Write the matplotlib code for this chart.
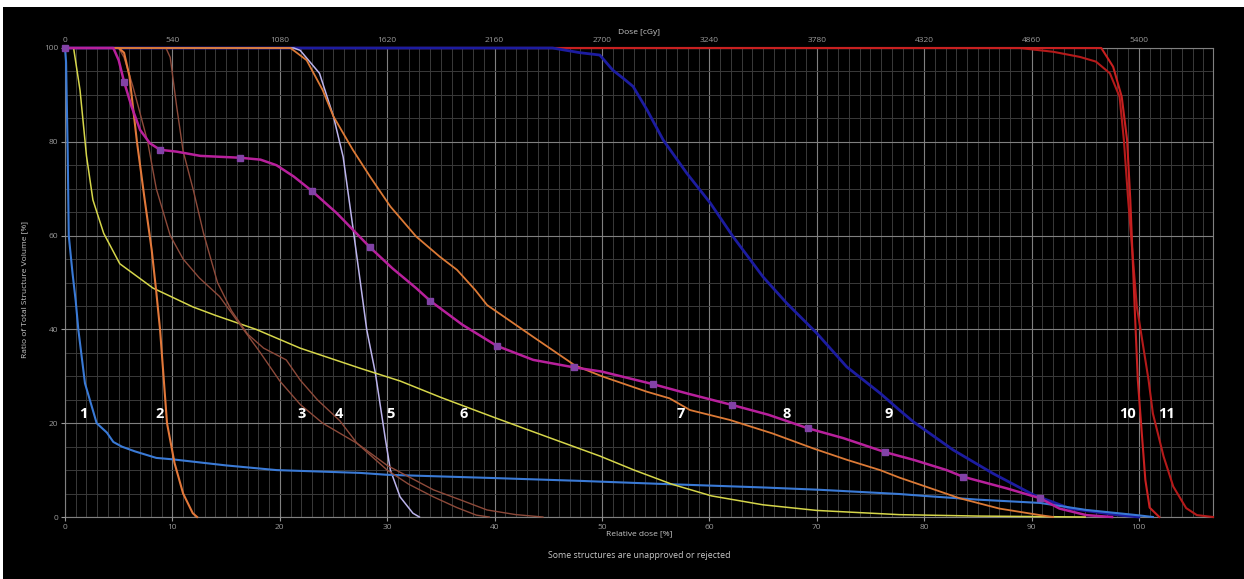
import matplotlib
matplotlib.use("Agg")
import matplotlib.pyplot as plt
from matplotlib.patches import Rectangle

plt.rcParams['font.family'] = ['Open Sans', 'DejaVu Sans']

# curve data, relative dose [%] vs volume [%]
x1 = [0, 0.1, 0.25, 0.35, 0.7, 1.0, 1.24, 1.86, 2.95, 3.9, 4.5, 5.3, 6.5, 8.5, 10, 15, 19.7, 27.5, 30, 40, 48, 55, 65, 70.3, 77.7, 80, 85, 90.8, 95.1, 99.8, 101.3]
y1 = [100, 97, 78, 60, 52, 46, 40, 28.5, 20, 18, 16, 15, 14, 12.6, 12.3, 11, 10, 9.4, 9.0, 8.3, 7.7, 7.1, 6.3, 5.8, 4.9, 4.5, 3.7, 3.0, 1.5, 0.4, 0]

x2 = [0, 5.0, 5.5, 6.0, 6.7, 7.4, 8.07, 8.5, 8.85, 9.5, 10.2, 11.0, 11.9, 12.3]
y2 = [100, 100, 99, 94, 80, 68, 57, 48, 40, 20, 11.5, 5, 0.8, 0]

x3 = [0, 5.0, 5.5, 6.3, 7.0, 7.7, 8.5, 9.8, 11.0, 12.5, 14.4, 16.3, 18.2, 20.0, 21.9, 24.0, 27.2, 30.0, 34.3, 37, 39.3, 42, 44.5]
y3 = [100, 100, 98, 92, 86, 80, 70, 60, 55, 51, 47, 41, 35, 29, 24, 20, 15.7, 11, 5.8, 3.5, 1.5, 0.5, 0]

x4 = [0, 9.4, 9.8, 10.4, 11.0, 11.95, 12.9, 14.2, 15.5, 17.0, 18.5, 20.6, 21.9, 23.5, 25.6, 27.2, 30.0, 32, 34.3, 36.5, 38.3, 39.5]
y4 = [100, 100, 98, 87.5, 78, 69.7, 60.5, 50, 44, 39, 36, 33.5, 29.2, 25, 20.5, 15.7, 10, 7, 4.3, 2, 0.4, 0]

x5 = [0, 21.3, 21.9, 23.7, 25.0, 25.9, 26.8, 27.6, 28.1, 28.9, 29.8, 30.3, 31.2, 32.4, 33]
y5 = [100, 100, 99.5, 94.6, 85.4, 76.8, 61.9, 48.4, 39.9, 30.7, 17.1, 10, 4.3, 0.8, 0]

x6 = [0, 0.8, 1.4, 2.0, 2.6, 3.6, 5.1, 8.2, 11.9, 14.0, 17.8, 21.9, 27.5, 31.2, 35, 40, 45, 49.8, 53, 56.5, 60.2, 65, 70, 77.7, 85, 95]
y6 = [100, 100, 91, 77, 67.6, 60.5, 54, 48.8, 44.8, 43, 40, 36, 31.7, 29, 25.5, 21.2, 17, 13, 10, 7, 4.5, 2.6, 1.4, 0.5, 0.2, 0]

x7 = [0, 21, 22.5, 24, 25, 26.8, 28.4, 30.3, 32.7, 34.9, 36.5, 38.2, 39.3, 43.6, 47.5, 50, 54.2, 56.3, 58.2, 61.9, 65.9, 69.7, 72.8, 75.9, 77.7, 80, 83.3, 87, 90.8, 92]
y7 = [100, 100, 97.4, 91, 85.4, 78.3, 72.6, 66.2, 59.8, 55.5, 52.7, 48.4, 45.2, 38.4, 32.3, 30, 26.7, 25.3, 22.8, 20.7, 17.8, 14.6, 12.2, 10, 8.4, 6.6, 4.0, 1.8, 0.4, 0]

x8 = [0, 4.5, 5.0, 5.5, 6.2, 7.0, 7.9, 8.85, 10.4, 12.6, 16.3, 18.2, 19.7, 21.3, 23.0, 25.3, 27.0, 28.4, 30.5, 32.7, 34.0, 37, 40.2, 43.6, 47.4, 50, 54.8, 58, 62.1, 65.5, 69.2, 72.5, 76.4, 79, 82.1, 83.6, 87.7, 90.8, 92.6, 95.1, 97.5]
y8 = [100, 100, 97.4, 92.8, 87.5, 82.5, 79.7, 78.3, 77.9, 77, 76.6, 76.2, 75, 72.6, 69.5, 64.8, 60.8, 57.5, 53, 48.8, 46.1, 41, 36.5, 33.5, 31.9, 31, 28.3, 26.3, 23.9, 21.8, 18.9, 16.8, 13.8, 12.2, 10, 8.6, 6.1, 4.0, 1.8, 0.4, 0]
marker_x = [0, 5.5, 8.85, 16.3, 23.0, 28.4, 34.0, 40.2, 47.4, 54.8, 62.1, 69.2, 76.4, 83.6, 90.8]
marker_y = [100, 92.8, 78.3, 76.6, 69.5, 57.5, 46.1, 36.5, 31.9, 28.3, 23.9, 18.9, 13.8, 8.6, 4.0]

x9 = [0, 45.4, 47.95, 49.8, 51, 52, 52.9, 54.2, 55.7, 57.9, 60.1, 62.2, 65, 67.2, 70, 72.8, 75.9, 77.7, 79, 82.7, 86.4, 90.2, 93.6, 98.2, 100]
y9 = [100, 100, 99, 98.5, 95.3, 93.5, 91.8, 86.8, 80.4, 73.3, 66.9, 59.8, 51.2, 45.6, 39.2, 32, 26.4, 22.8, 20.3, 14.3, 9.3, 4.7, 1.8, 0.4, 0]

x10 = [0, 96.5, 97.6, 98.4, 98.9, 99.2, 99.6, 99.9, 100.2, 100.6, 101, 101.9]
y10 = [100, 100, 96, 89.6, 80.4, 67.6, 45, 29.2, 20, 7.9, 2, 0]

x11 = [0, 88.9, 92, 94.5, 96, 97.3, 98.2, 98.6, 99.0, 99.8, 100.9, 101.3, 102.3, 103.2, 104.4, 105.4, 106.9]
y11 = [100, 100, 99.2, 98.1, 97.1, 94.6, 89.6, 80.4, 67.6, 45, 29.2, 22.1, 12.9, 6.5, 1.9, 0.4, 0]

label_names = ['1', '2', '3', '4', '5', '6', '7', '8', '9', '10', '11']
label_x = [1.7, 8.85, 22.0, 25.5, 30.3, 37.1, 57.3, 67.2, 76.7, 98.9, 102.6]
label_y = 21.9

dose_ticks = [0, 540, 1080, 1620, 2160, 2700, 3240, 3780, 4320, 4860, 5400]
rel_ticks = [0, 10, 20, 30, 40, 50, 60, 70, 80, 90, 100]
vol_ticks = [0, 20, 40, 60, 80, 100]

fig = plt.figure(figsize=(12.44, 5.79), dpi=100, facecolor='white')
fig.patches.append(Rectangle((3 / 1244, 0), 1, 572 / 579, transform=fig.transFigure,
                             facecolor='black', edgecolor='none', zorder=-10))
ax = fig.add_axes([65 / 1244, 1 - 517 / 579, (1213 - 65) / 1244, (517 - 48) / 579])
ax.set_facecolor('black')

# grid
for v in range(0, 107):
    col = '#808080' if v % 10 == 0 else '#3a3a3a'
    ax.axvline(v, color=col, lw=0.8 if v % 10 == 0 else 0.7, zorder=0)
for v in range(0, 101, 5):
    col = '#808080' if v % 20 == 0 else '#3a3a3a'
    ax.axhline(v, color=col, lw=0.8 if v % 20 == 0 else 0.7, zorder=0)

for s in ax.spines.values():
    s.set_color('#808080')
    s.set_linewidth(0.8)
    s.set_zorder(1)

curves = [
    (x11, y11, '#b51a1a', 1.5),
    (x10, y10, '#c82020', 1.5),
    (x9, y9, '#1c1ca0', 2.0),
    (x5, y5, '#bcb4ec', 1.1),
    (x1, y1, '#3a7ad6', 1.5),
    (x6, y6, '#d6d64a', 1.1),
    (x3, y3, '#8e4a3a', 1.0),
    (x4, y4, '#8e4a3a', 1.0),
    (x2, y2, '#e2783a', 1.5),
    (x7, y7, '#dc7a36', 1.3),
    (x8, y8, '#b8209c', 1.8),
]
for i, (cx, cy, col, w) in enumerate(curves):
    ax.plot(cx, cy, color=col, lw=w, zorder=3 + i * 0.1, clip_on=False)
ax.plot(marker_x, marker_y, ls='none', marker='s', ms=3.8, color='#8242a6', zorder=5, clip_on=False)

for name, lx in zip(label_names, label_x):
    ax.text(lx, label_y, name, color='white', fontsize=10.5, fontweight='bold',
            ha='center', va='center', zorder=8)

ax.set_xlim(0, 106.9)
ax.set_ylim(0, 100)
ax.set_xticks(rel_ticks)
ax.set_yticks(vol_ticks)
ax.tick_params(colors='#9a9a9a', labelsize=6, length=3, width=0.8, pad=2)

top = ax.secondary_xaxis('top', functions=(lambda x: x * 54, lambda d: d / 54))
top.set_xticks(dose_ticks)
top.tick_params(colors='#9a9a9a', labelsize=6, length=0, pad=3)
top.spines['top'].set_visible(False)

fig.text(639 / 1244, 1 - 33 / 579, 'Dose [cGy]', color='#c8c8c8', fontsize=6, ha='center', va='center')
fig.text(639 / 1244, 1 - 534 / 579, 'Relative dose [%]', color='#c8c8c8', fontsize=6, ha='center', va='center')
fig.text(639 / 1244, 1 - 555 / 579, 'Some structures are unapproved or rejected', color='#c8c8c8',
         fontsize=6.3, ha='center', va='center')
fig.text(25 / 1244, 1 - 290 / 579, 'Ratio of Total Structure Volume [%]', color='#c8c8c8', fontsize=6,
         ha='center', va='center', rotation=90)

fig.savefig('out.png', dpi=100, facecolor=fig.get_facecolor())
